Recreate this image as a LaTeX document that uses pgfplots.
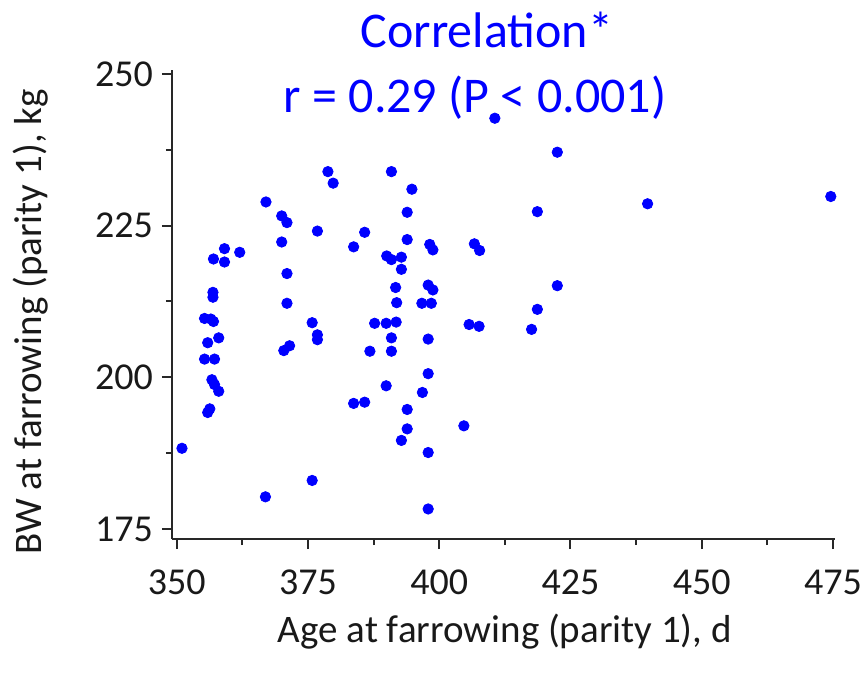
\documentclass[border=0pt]{standalone}
\usepackage{pgfplots}
\pgfplotsset{compat=1.18}
\usepackage{fontspec}
\setmainfont{Carlito}
\definecolor{axgray}{RGB}{40,40,40}
\definecolor{ptblue}{RGB}{0,0,255}
\begin{document}
\begin{tikzpicture}
\useasboundingbox (-86bp,-67.5bp) rectangle (347.5bp,269.5bp);
\begin{axis}[
  scale only axis,
  width=331.5bp, height=234.5bp,
  xmin=349.1, xmax=475.4, ymin=173.35, ymax=250.65,
  axis lines=left,
  axis line style={-, axgray, line width=1bp},
  every tick/.style={axgray, line width=1bp},
  tick align=outside,
  major tick length=5bp, minor tick length=3bp,
  xtick={350,375,...,475}, ytick={175,200,225,250},
  minor x tick num=1, minor y tick num=1,
  /pgf/number format/assume math mode=true,
  tick label style={font=\fontsize{19bp}{23bp}\selectfont, text=black!90},
  xticklabel shift=7bp, yticklabel shift=1bp,
  xlabel={Age at farrowing (parity 1), d},
  ylabel={BW at farrowing (parity 1), kg},
  label style={font=\fontsize{19.5bp}{23bp}\selectfont, text=black!90},
  xlabel style={at={(axis description cs:0.502,-0.198)}, anchor=center},
  ylabel style={at={(axis description cs:-0.214,0.463)}, anchor=center},
  clip=false,
]
\addplot[only marks, color=ptblue, mark=*, mark size=2.6bp, mark options={draw=ptblue, fill=ptblue}] table {
x y
351.0 188.3
355.9 194.2
356.3 194.8
356.7 199.6
357.2 198.8
358.0 197.7
355.3 203.0
357.2 203.0
355.9 205.7
358.0 206.5
355.3 209.7
356.5 209.6
357.0 209.2
356.9 214.0
356.9 213.2
357.0 219.5
359.1 221.2
359.1 219.0
362.0 220.6
366.9 180.3
367.0 228.9
370.0 226.6
371.0 225.5
370.0 222.3
371.0 217.1
371.0 212.2
371.5 205.2
370.4 204.4
375.8 183.0
375.8 209.0
376.8 207.0
376.8 206.2
376.8 224.1
378.8 233.9
379.8 232.0
383.7 221.5
385.8 223.9
383.7 195.7
385.8 195.9
386.8 204.3
387.7 208.9
389.9 208.9
389.9 198.6
390.0 220.0
390.9 219.4
392.8 219.8
390.9 233.9
390.9 206.5
390.9 204.3
391.8 209.1
391.7 214.8
391.9 212.3
392.8 217.8
392.8 189.6
393.9 191.5
393.9 194.7
393.9 222.7
393.9 227.2
394.8 231.0
396.8 197.5
396.7 212.2
398.5 212.2
397.9 215.2
398.8 214.4
397.9 206.3
397.9 200.6
397.9 187.6
397.9 178.3
398.2 221.9
398.8 221.0
404.7 192.0
405.7 208.7
407.6 208.4
406.7 222.0
407.7 220.9
410.6 242.7
417.6 207.9
418.7 211.2
418.7 227.3
422.5 215.1
422.5 237.1
439.7 228.6
474.6 229.8
};
\node[anchor=base, text=ptblue, font=\fontsize{25bp}{30bp}\selectfont] at (axis description cs:0.475,1.047) {Correlation*};
\node[anchor=base, text=ptblue, font=\fontsize{25bp}{30bp}\selectfont] at (axis description cs:0.457,0.910) {r = 0.29 (P < 0.001)};
\end{axis}
\end{tikzpicture}
\end{document}
